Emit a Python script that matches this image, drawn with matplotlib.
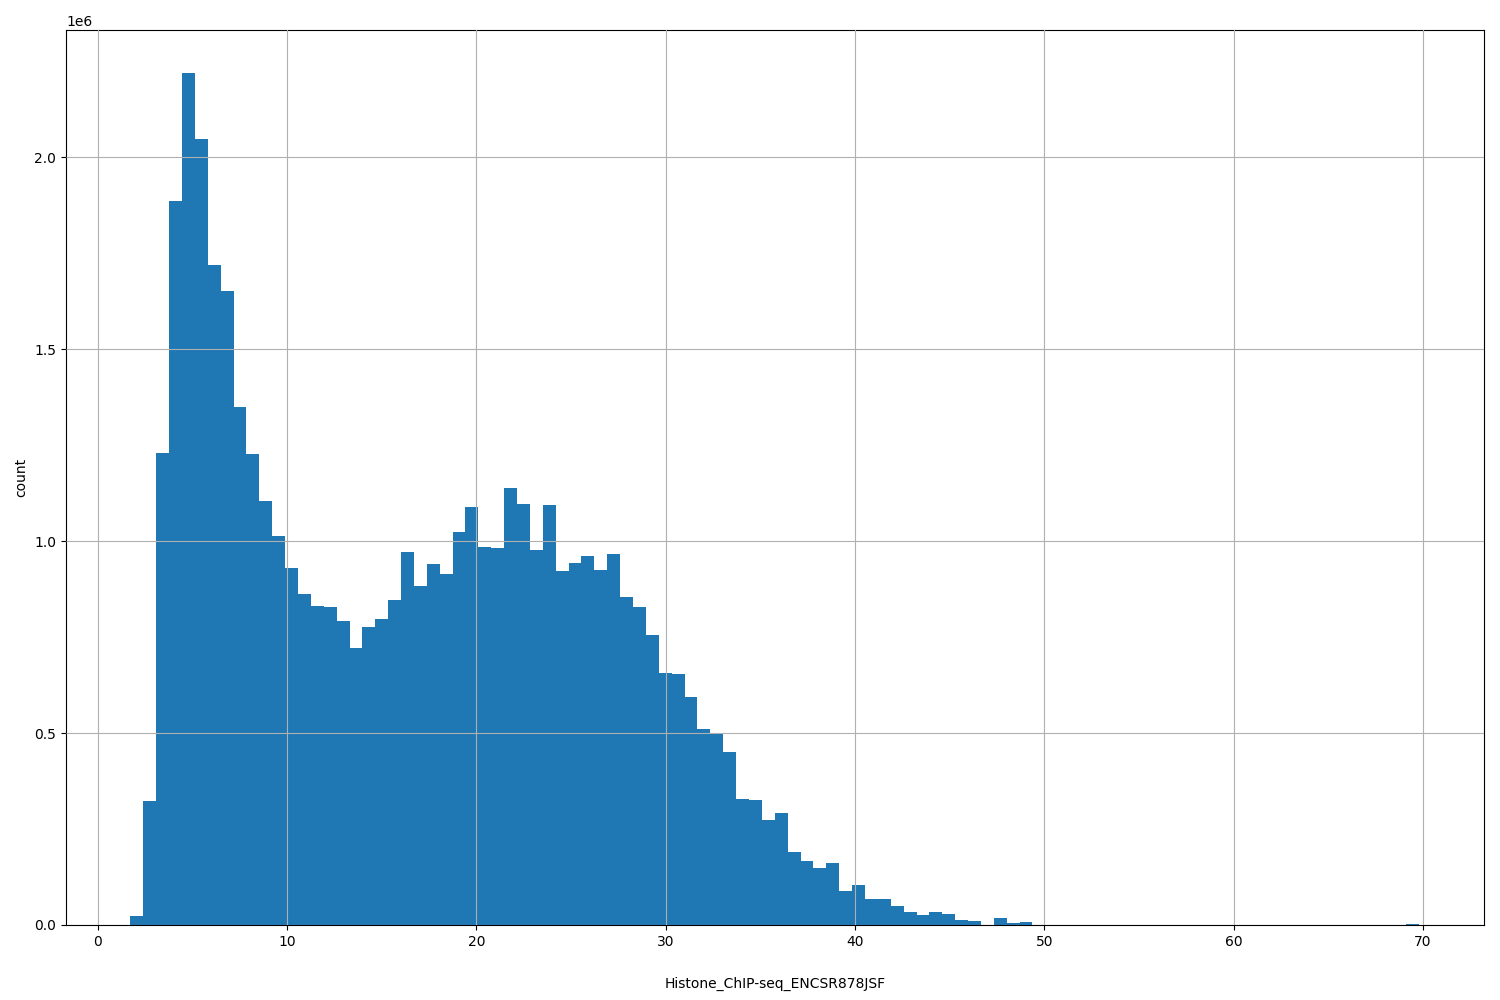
import numpy as np
import matplotlib
matplotlib.use("Agg")
import matplotlib.pyplot as plt

x_min, x_max, n_bins = 1.72, 69.8, 100
counts_head = [0.023, 0.323, 1.23, 1.885, 2.22, 2.047, 1.719, 1.651, 1.349, 1.227,
               1.104, 1.013, 0.930, 0.862, 0.831, 0.828, 0.792, 0.721, 0.776, 0.797,
               0.846, 0.971, 0.883, 0.940, 0.914, 1.023, 1.089, 0.984, 0.982, 1.138,
               1.096, 0.977, 1.094, 0.922, 0.943, 0.961, 0.924, 0.966, 0.854, 0.828,
               0.755, 0.656, 0.654, 0.594, 0.510, 0.497, 0.450, 0.328, 0.326, 0.273,
               0.292, 0.190, 0.167, 0.148, 0.161, 0.089, 0.104, 0.068, 0.068, 0.049,
               0.034, 0.026, 0.034, 0.029, 0.013, 0.010, 0.0, 0.018, 0.004, 0.008]
counts = counts_head + [0.0] * 29 + [0.003]
counts = np.array(counts) * 1e6

edges = np.linspace(x_min, x_max, n_bins + 1)

fig = plt.figure(figsize=(15, 10), dpi=100)
ax = fig.add_axes([0.044, 0.075, 0.945, 0.895])
ax.hist(edges[:-1], bins=edges, weights=counts, color="#1f77b4")
ax.grid(True)
ax.set_axisbelow(False)
ax.set_xlabel("Histone_ChIP-seq_ENCSR878JSF", labelpad=20)
ax.set_ylabel("count")
fig.savefig("out.png")
